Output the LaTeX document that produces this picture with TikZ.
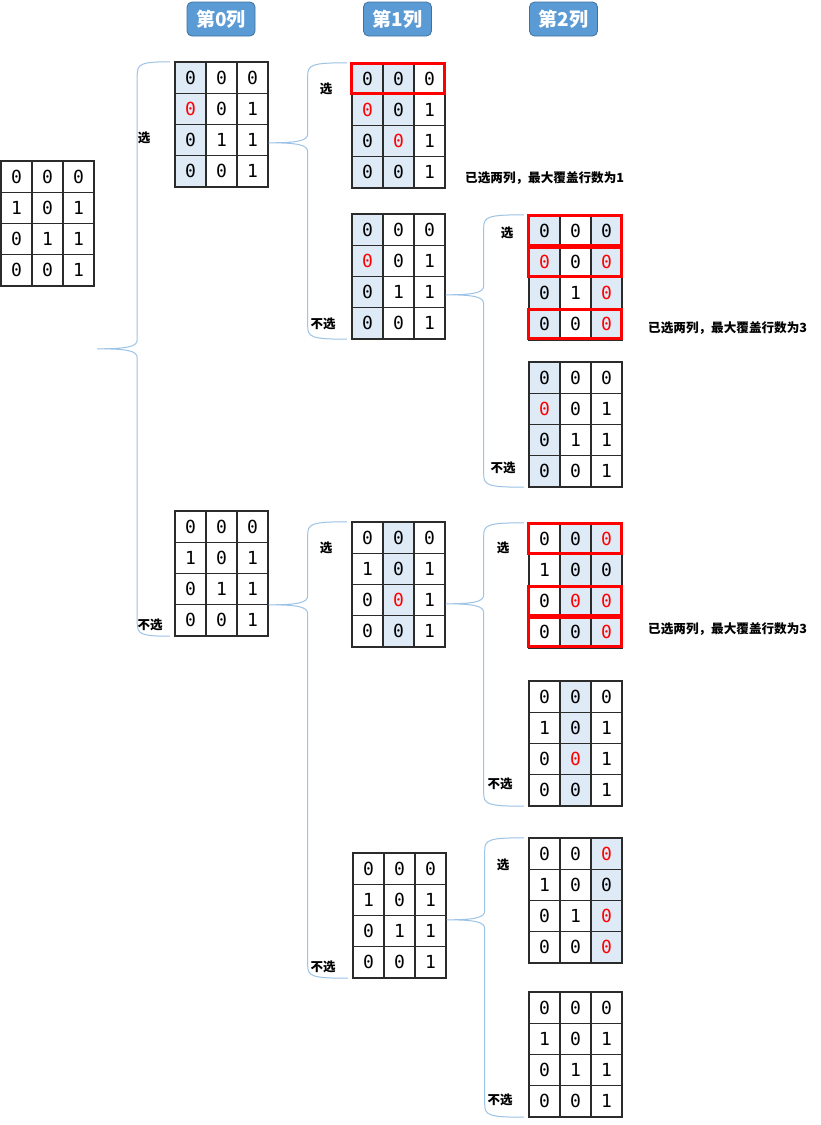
\documentclass[tikz,border=0pt]{standalone}
\usepackage{fontspec}
\usetikzlibrary{calc}
\newfontfamily\cjk{Noto Sans CJK SC}
\newfontfamily\mono{DejaVu Sans Mono}
\definecolor{hdr}{HTML}{5B9BD5}
\definecolor{hdrline}{HTML}{41719C}
\definecolor{shadec}{HTML}{DEEBF7}
\definecolor{brcc}{HTML}{9DC3E6}
\definecolor{gridc}{HTML}{2B2B2B}
\newcommand\R[1]{\textcolor{red}{#1}}
% table: name, x, y (top-left, px), shaded columns, rows
\newcommand\mtab[5]{%
  \foreach \cc in {#4} {\ifnum\cc<3 \fill[shadec] (#2+\cc*31,#3) rectangle ++(31,125);\fi}
  \foreach \rw [count=\ii from 0] in {#5} {
    \foreach \vv [count=\jj from 0] in \rw {
      \node[digit] at (#2+\jj*31+15.5, #3+\ii*31.25+15.6) {\vv};
    }
  }
  \foreach \kk in {0,...,3} \draw[gridline] (#2+\kk*31,#3) -- ++(0,125);
  \foreach \kk in {0,...,4} \draw[gridline] (#2,#3+\kk*31.25) -- ++(93,0);
  \node[tabnode] (#1) at (#2+46.5,#3+62.5) {};
}
\newcommand\redrow[2]{%
  \draw[redbox] ($(#1.north west)+(0,#2*31.25+1)$) rectangle ($(#1.north west)+(93,#2*31.25+30.25)$);
}
% brace: from, tip dx, tip dy (from north east), vertical offset, top table, bottom table
\newcommand\brc[6]{%
  \coordinate (tp) at ($(#1.north east)+(#2,#3)$);
  \coordinate (vx) at ($(tp)+(#4,0)$);
  \coordinate (te) at ($(#5.north west)+(-5,0)$);
  \coordinate (be) at ($(#6.south west)+(-5,0)$);
  \draw[brcline] (te) .. controls ($(te -| vx)+(4,0)$) and ($(te -| vx)+(0,2)$) .. ($(te -| vx)+(0,13)$)
    -- ($(tp -| vx)+(0,-9)$) .. controls ($(tp -| vx)+(0,-2)$) and ($(tp -| vx)+(-10,0)$) .. (tp)
    .. controls ($(tp -| vx)+(-10,0)$) and ($(tp -| vx)+(0,2)$) .. ($(tp -| vx)+(0,9)$)
    -- ($(be -| vx)+(0,-13)$) .. controls ($(be -| vx)+(0,-2)$) and ($(be -| vx)+(4,0)$) .. (be);
}
\begin{document}
\begin{tikzpicture}[x=1pt,y=-1pt,
  digit/.style={font=\mono\fontsize{18}{18}\selectfont, inner sep=0pt, anchor=center},
  gridline/.style={draw=gridc, line width=1.1pt, line cap=rect},
  tabnode/.style={rectangle, draw=none, inner sep=0pt, minimum width=93pt, minimum height=125pt},
  redbox/.style={draw=red, line width=3pt},
  brcline/.style={draw=brcc, line width=1pt},
  hdrbox/.style={rectangle, rounded corners=5pt, fill=hdr, draw=hdrline, line width=0.8pt,
    minimum width=68pt, minimum height=34pt, inner sep=0pt, text=white,
    font=\cjk\bfseries\fontsize{19}{19}\selectfont},
  lab/.style={font=\cjk\bfseries\fontsize{12.5}{13}\selectfont, inner sep=0pt, anchor=center},
  note/.style={font=\cjk\bfseries\fontsize{12.6}{13}\selectfont, inner sep=0pt, anchor=west}
  ]
\useasboundingbox (0,0) rectangle (820,1125);
\fill[white] (0,0) rectangle (820,1125);

% headers
\node[hdrbox] (h0) at (221,19) {第0列};
\node[hdrbox] (h1) at (397.5,19) {第1列};
\node[hdrbox] (h2) at (563.5,19) {第2列};

% tables
\mtab{R}{1}{161}{9}{{0,0,0},{1,0,1},{0,1,1},{0,0,1}}
\mtab{A}{175}{62}{0}{{0,0,0},{\R0,0,1},{0,1,1},{0,0,1}}
\mtab{B}{175}{511}{9}{{0,0,0},{1,0,1},{0,1,1},{0,0,1}}
\mtab{A1}{352}{63}{0,1}{{0,0,0},{\R0,0,1},{0,\R0,1},{0,0,1}}
\mtab{A2}{352}{214}{0}{{0,0,0},{\R0,0,1},{0,1,1},{0,0,1}}
\mtab{B1}{352}{522}{1}{{0,0,0},{1,0,1},{0,\R0,1},{0,0,1}}
\mtab{B2}{353}{853}{9}{{0,0,0},{1,0,1},{0,1,1},{0,0,1}}
\mtab{A2a}{529}{215}{0,2}{{0,0,0},{\R0,0,\R0},{0,1,\R0},{0,0,\R0}}
\mtab{A2b}{529}{362}{0}{{0,0,0},{\R0,0,1},{0,1,1},{0,0,1}}
\mtab{B1a}{529}{523}{1,2}{{0,0,\R0},{1,0,0},{0,\R0,\R0},{0,0,\R0}}
\mtab{B1b}{529}{681}{1}{{0,0,0},{1,0,1},{0,\R0,1},{0,0,1}}
\mtab{B2a}{529}{838}{2}{{0,0,\R0},{1,0,0},{0,1,\R0},{0,0,\R0}}
\mtab{B2b}{529}{992}{9}{{0,0,0},{1,0,1},{0,1,1},{0,0,1}}

% red row boxes
\redrow{A1}{0}
\redrow{A2a}{0}\redrow{A2a}{1}\redrow{A2a}{3}
\redrow{B1a}{0}\redrow{B1a}{2}\redrow{B1a}{3}

% braces
\brc{R}{3}{188}{40}{A}{B}
\brc{A}{0.5}{81}{39}{A1}{A2}
\brc{B}{0.5}{94}{39}{B1}{B2}
\brc{A2}{0.5}{81}{38}{A2a}{A2b}
\brc{B1}{0.5}{82}{38}{B1a}{B1b}
\brc{B2}{0.5}{67}{38}{B2a}{B2b}

% labels
\node[lab] (l1) at (144,138) {选};
\node[lab] (l2) at (150,625) {不选};
\node[lab] (l3) at (326,89) {选};
\node[lab] (l4) at (323,324) {不选};
\node[lab] (l5) at (326,548) {选};
\node[lab] (l6) at (323,967) {不选};
\node[lab] (l7) at (507,233) {选};
\node[lab] (l8) at (503,468) {不选};
\node[lab] (l9) at (503,548) {选};
\node[lab] (l10) at (500,784) {不选};
\node[lab] (l11) at (503,865) {选};
\node[lab] (l12) at (500,1100) {不选};

% notes
\node[note] (n1) at (465,178) {已选两列，最大覆盖行数为1};
\node[note] (n2) at (648,328) {已选两列，最大覆盖行数为3};
\node[note] (n3) at (648,629) {已选两列，最大覆盖行数为3};
\end{tikzpicture}
\end{document}
